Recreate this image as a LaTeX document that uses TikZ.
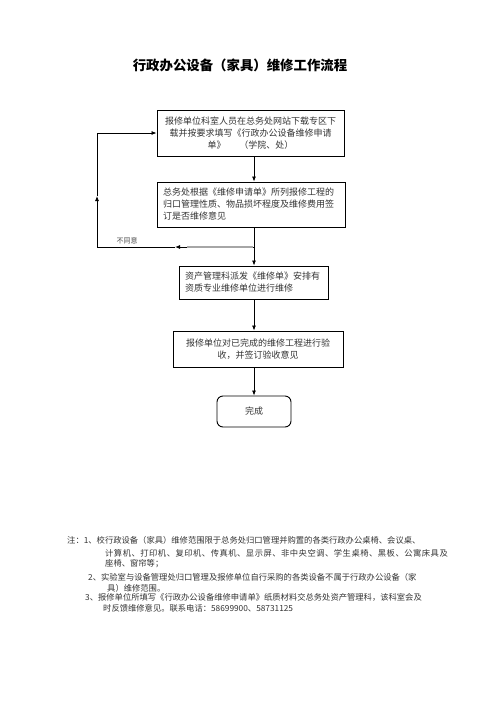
\documentclass[tikz,border=0pt]{standalone}
\usepackage{fontspec}
\setmainfont{Liberation Serif}
\newfontfamily\cjk{Noto Sans CJK SC}
\usetikzlibrary{
    positioning,
    arrows.meta,
    calc,
}
\tikzset{
    % Box styles
    proc/.style={rectangle, draw, line width=0.9pt, inner sep=0pt,
                 font=\cjk\fontsize{9}{12}\selectfont, text=black!80},
    endbox/.style={proc, rounded corners=6pt},
    % Arrow styles
    flow/.style={-{Latex[length=5pt,width=4pt]}, line width=0.8pt},
    % Annotation styles
    note/.style={anchor=west, inner sep=0pt, font=\cjk\fontsize{8.3}{10}\selectfont, text=black!80},
    annot/.style={inner sep=0pt, font=\cjk\fontsize{7}{8}\selectfont, text=black!70},
}

\begin{document}
\begin{tikzpicture}[x=1pt, y=-1pt]
    \useasboundingbox (0,0) rectangle (496,702);

    % Title
    \node[font=\cjk\bfseries\fontsize{13.4}{16}\selectfont] (title) at (240,65)
        {行政办公设备（家具）维修工作流程};

    % Steps
    \node[proc, minimum width=187pt, minimum height=46pt, text width=175pt, align=center]
        (request) at (250.5,133)
        {报修单位科室人员在总务处网站下载专区下\\载并按要求填写《行政办公设备维修申请\\单》\hspace{14pt}（学院、处）};
    \node[proc, minimum width=188pt, minimum height=45pt, text width=176pt, align=left]
        (review) at (251,204.5)
        {总务处根据《维修申请单》所列报修工程的\\归口管理性质、物品损坏程度及维修费用签\\订是否维修意见};
    \node[proc, minimum width=149pt, minimum height=33pt, text width=137pt, align=left]
        (dispatch) at (253.5,282.5)
        {资产管理科派发《维修单》安排有\\资质专业维修单位进行维修};
    \node[proc, minimum width=170pt, minimum height=36pt, text width=160pt, align=center]
        (accept) at (258,349)
        {报修单位对已完成的维修工程进行验\\收，并签订验收意见};
    \node[endbox, minimum width=74pt, minimum height=31pt] (done) at (254,411.5) {完成};

    % Main flow
    \coordinate (axis) at (254,0);
    \coordinate (split) at (254,247);
    \draw[flow] (request.south -| axis) -- (review.north -| axis);
    \draw[line width=0.8pt] (review.south -| axis) -- (split);
    \draw[flow] (split) -- (dispatch.north -| axis);
    \draw[flow] (dispatch.south -| axis) -- (accept.north -| axis);
    \draw[flow] (accept.south -| axis) -- (done.north);

    % Back loop
    \coordinate (backtip) at (175,247);
    \coordinate (backlo) at (97,247);
    \coordinate (backup) at (97,196);
    \coordinate (graystop) at (187,247);
    \draw[flow] (split) -- (backtip);
    \draw[flow] (backtip) -- (backlo) -- (backup);
    \draw[flow] (backup) -- (request.west -| backlo) -- (request.west);
    \draw[gray!70, line width=2pt] (253.4,247) -- (graystop);
    \node[annot] (nolbl) at (127,241) {不同意};

    % Notes
    \foreach \i/\x/\y/\t in {
        1/67/540/{注：1、校行政设备（家具）维修范围限于总务处归口管理并购置的各类行政办公桌椅、会议桌、},
        2/105/553/{\addfontfeatures{LetterSpace=6}计算机、打印机、复印机、传真机、显示屏、非中央空调、学生桌椅、黑板、公寓床具及},
        3/105/564/{座椅、窗帘等；},
        4/88/577/{2、实验室与设备管理处归口管理及报修单位自行采购的各类设备不属于行政办公设备（家},
        5/107/588/{具）维修范围。},
        6/85/597/{3、报修单位所填写《行政办公设备维修申请单》纸质材料交总务处资产管理科，该科室会及},
        7/103/608/{时反馈维修意见。联系电话：58699900、58731125}} {
        \node[note] (note\i) at (\x,\y) {\t};
    }
\end{tikzpicture}
\end{document}
